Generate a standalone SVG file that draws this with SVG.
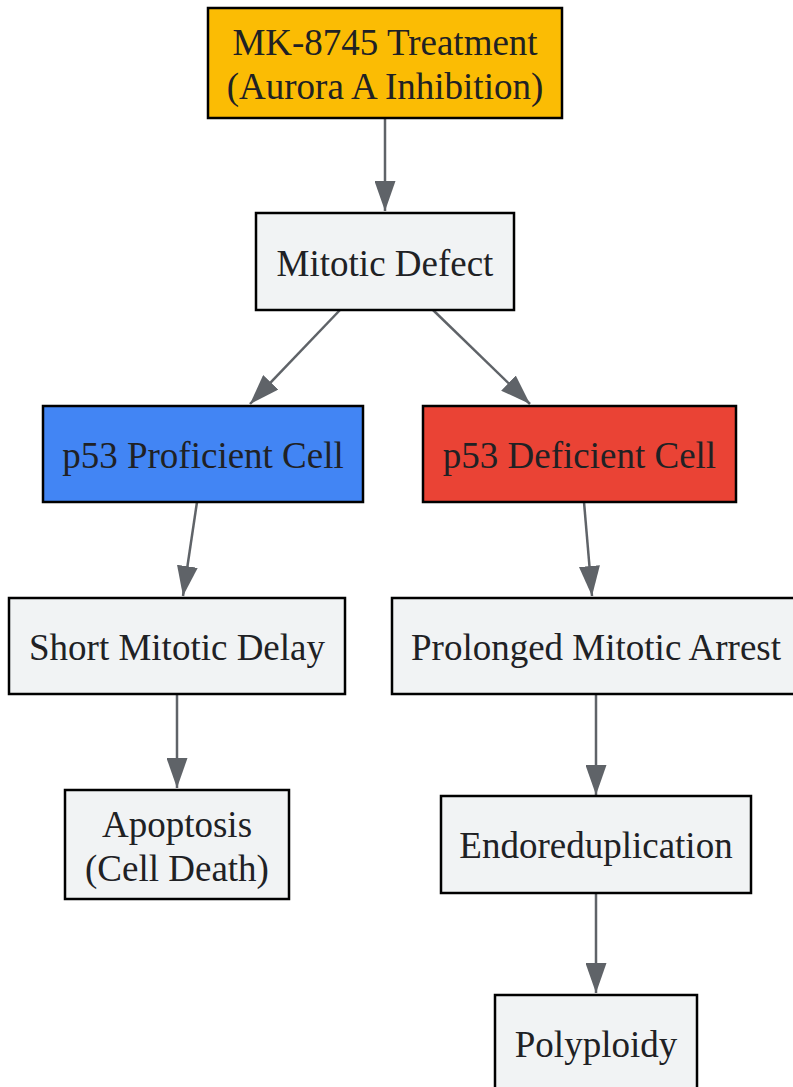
<svg xmlns="http://www.w3.org/2000/svg" width="793" height="1087" viewBox="0 0 793 1087">
<defs>
<style>
.n rect{stroke:#000;stroke-width:2.5}
.n text{font-family:"Liberation Serif","Times New Roman",serif;font-size:37px;fill:#202124;text-anchor:middle}
.g rect{fill:#f1f3f4}
.e path{fill:none;stroke:#5f6368;stroke-width:2.5}
</style>
<marker id="ah" viewBox="0 0 12 8.4" refX="12" refY="4.2" markerWidth="12" markerHeight="8.4" markerUnits="strokeWidth" orient="auto">
<path d="M0,0L12,4.2L0,8.4z" fill="#5f6368"/>
</marker>
</defs>
<rect width="793" height="1087" fill="#fff"/>
<g class="e" id="edges">
<path d="M385,118L385,211" marker-end="url(#ah)"/>
<path d="M340,310L250,404" marker-end="url(#ah)"/>
<path d="M433,310L530,404" marker-end="url(#ah)"/>
<path d="M197,502L183,596" marker-end="url(#ah)"/>
<path d="M584,502L592,596" marker-end="url(#ah)"/>
<path d="M177,694L177,788" marker-end="url(#ah)"/>
<path d="M596,694L596,795" marker-end="url(#ah)"/>
<path d="M596,893L596,993" marker-end="url(#ah)"/>
</g>
<g class="n" id="mk"><rect x="208" y="8" width="354" height="110" fill="#fbbc04"/><text x="385" y="55">MK-8745 Treatment</text><text x="385" y="99">(Aurora A Inhibition)</text></g>
<g class="n g" id="defect"><rect x="256" y="213" width="258" height="97"/><text x="385" y="276">Mitotic Defect</text></g>
<g class="n" id="prof"><rect x="43" y="406" width="320" height="96" fill="#4285f4"/><text x="203" y="468">p53 Proficient Cell</text></g>
<g class="n" id="def"><rect x="423" y="406" width="313" height="96" fill="#ea4335"/><text x="579.5" y="468">p53 Deficient Cell</text></g>
<g class="n g" id="short"><rect x="9" y="598" width="336" height="96"/><text x="177" y="660">Short Mitotic Delay</text></g>
<g class="n g" id="prolonged"><rect x="392" y="598" width="408" height="96"/><text x="596" y="660">Prolonged Mitotic Arrest</text></g>
<g class="n g" id="apoptosis"><rect x="65" y="790" width="224" height="109"/><text x="177" y="837">Apoptosis</text><text x="177" y="881">(Cell Death)</text></g>
<g class="n g" id="endo"><rect x="441" y="796" width="310" height="97"/><text x="596" y="858">Endoreduplication</text></g>
<g class="n g" id="poly"><rect x="495" y="995" width="202" height="100"/><text x="596" y="1057">Polyploidy</text></g>
</svg>
